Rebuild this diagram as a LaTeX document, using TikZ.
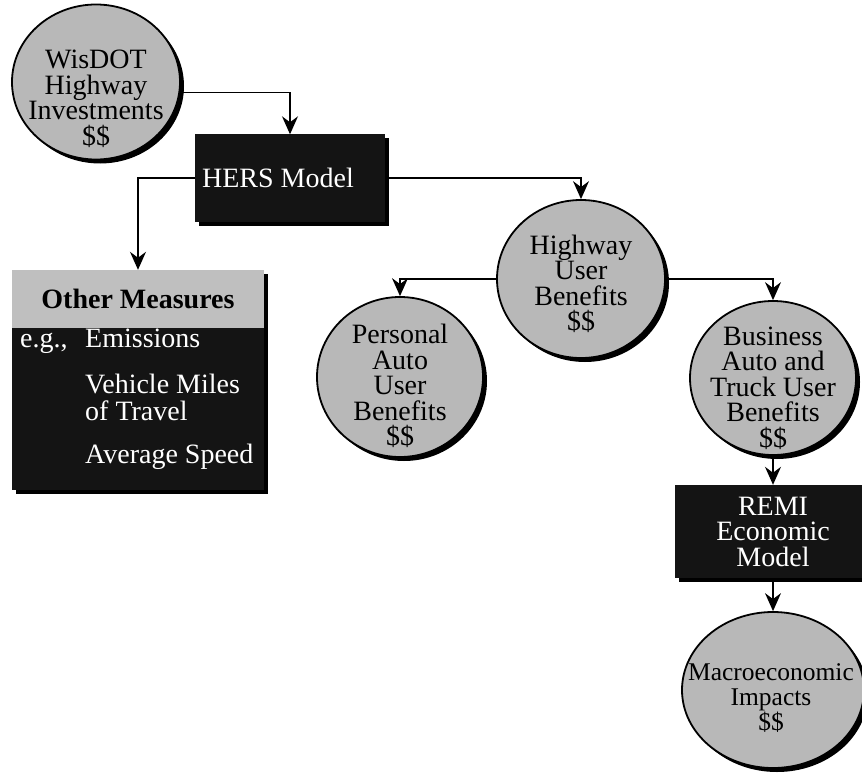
\documentclass[tikz,border=0pt]{standalone}
\usepackage{fontspec}
\setmainfont{Liberation Serif}
\usetikzlibrary{arrows.meta,shadows,shapes.geometric}
\begin{document}
\begin{tikzpicture}[x=1pt,y=-1pt,
  txt/.style={font=\fontsize{28}{25.5}\selectfont},
  shad/.style={drop shadow={shadow xshift=4pt, shadow yshift=-4pt, fill=black, opacity=1}},
  bub/.style={ellipse, draw=black, line width=1.8pt, fill=black!28, inner sep=0pt, shad},
  btxt/.style={txt, align=center, inner sep=0pt},
  blk/.style={rectangle, fill=black!92, text=white, txt, align=center, inner sep=0pt, shad},
  wtxt/.style={txt, text=white, anchor=base west, inner sep=0pt},
  conn/.style={line width=1.1pt, -{Stealth[length=18pt,width=16pt,inset=6pt]}}
]
\useasboundingbox (0,0) rectangle (862,773);
\fill[white] (0,0) rectangle (862,773);

% circles
\node[bub, minimum width=168pt, minimum height=155pt] (wis) at (96,82) {};
\node[btxt] (wist) at (96,99) {WisDOT\\Highway\\Investments\\\$\$};
\node[bub, minimum width=168pt, minimum height=158pt] (hwy) at (581,279) {};
\node[btxt] (hwyt) at (581,284) {Highway\\User\\Benefits\\\$\$};
\node[bub, minimum width=166pt, minimum height=160pt] (pers) at (400,377) {};
\node[btxt] (perst) at (400,386) {Personal\\Auto\\User\\Benefits\\\$\$};
\node[bub, minimum width=166pt, minimum height=154pt] (bus) at (773,378) {};
\node[btxt] (bust) at (773,388) {Business\\Auto and\\Truck User\\Benefits\\\$\$};
\node[bub, minimum width=182pt, minimum height=156pt] (macro) at (773,690) {};
\node[btxt, font=\fontsize{25.5}{25}\selectfont] (macrot) at (771,698) {Macroeconomic\\Impacts\\\$\$};

% black boxes
\node[blk, minimum width=190pt, minimum height=87pt] (hers) at (290,178) {HERS Model\hspace*{24pt}};
\node[blk, minimum width=196pt, minimum height=93pt] (remi) at (773,531.5) {REMI\\Economic\\Model};

% other measures
\node[blk, minimum width=252pt, minimum height=220pt] (om) at (138,380) {};
\node[rectangle, fill=black!25, minimum width=252pt, minimum height=58pt, inner sep=0pt, txt] (omh) at (138,299) {\bfseries Other Measures};
\node[wtxt] (eg) at (20,347) {e.g.,};
\node[wtxt] (em) at (85,347) {Emissions};
\node[wtxt] (vm) at (85,393) {Vehicle Miles};
\node[wtxt] (vt) at (85,420) {of Travel};
\node[wtxt] (avg) at (85,463) {Average Speed};

% connectors
\draw[conn] (wis.-7) -| (hers.north);
\draw[conn] (hers.west) -| (om.north);
\draw[conn] (hers.east) -| (hwy.north);
\draw[conn] (hwy.west) -| (pers.north);
\draw[conn] (hwy.east) -| (bus.north);
\draw[conn] (bus.south) -- (remi.north);
\draw[conn] (remi.south) -- (macro.north);
\end{tikzpicture}
\end{document}
